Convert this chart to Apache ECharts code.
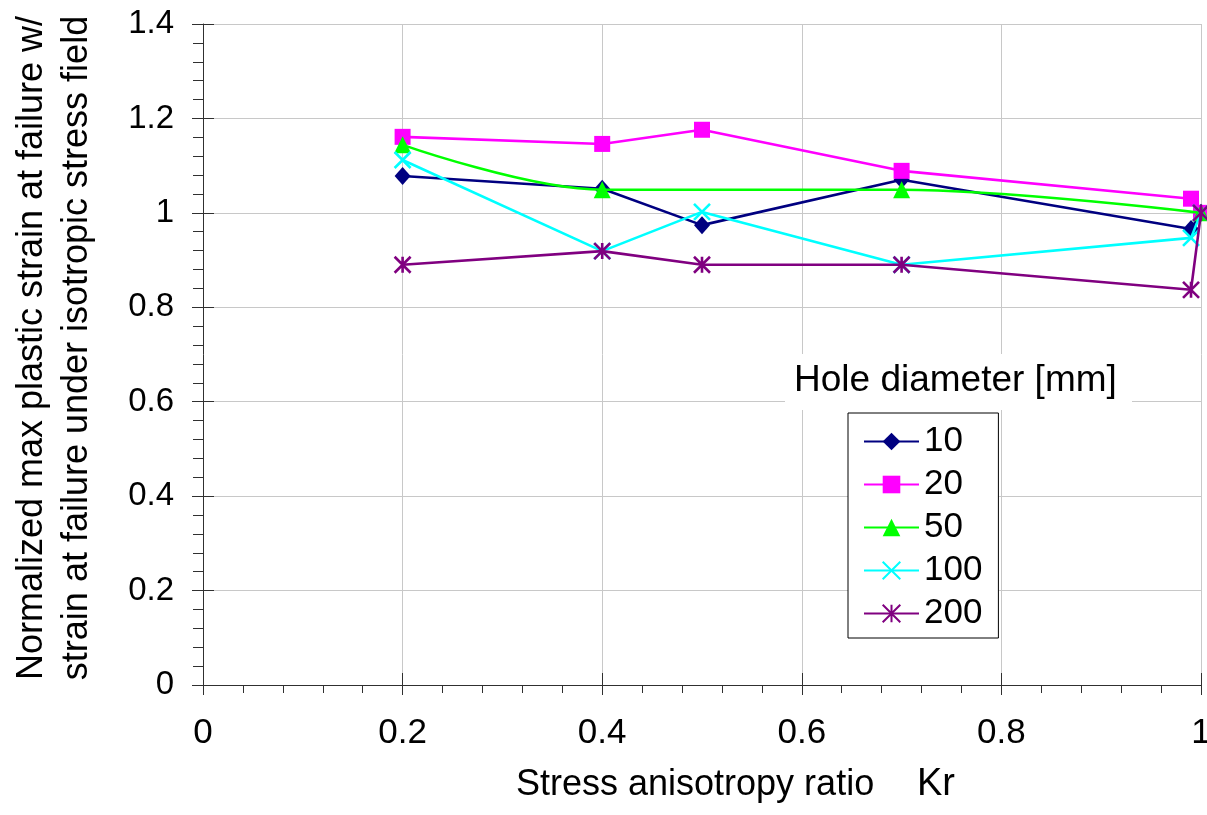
<!DOCTYPE html>
<html>
<head>
<meta charset="utf-8">
<script src="https://cdn.jsdelivr.net/npm/echarts@6/dist/echarts.min.js"></script>
<style>html,body{margin:0;padding:0;background:#fff;}#c{width:1207px;height:815px;}</style>
</head>
<body>
<div id="c"></div>
<script>
// ---- data ----
const seriesNames = ['10', '20', '50', '100', '200'];
const kr = [0.2, 0.4, 0.5, 0.7, 0.99, 1.0];
const kr50 = [0.2, 0.4, 0.7, 1.0];
const d10 = [1.078, 1.051, 0.974, 1.070, 0.966, 1.0];
const d20 = [1.161, 1.146, 1.176, 1.089, 1.030, 1.0];
const d50 = [1.144, 1.049, 1.049, 1.0];
const d100 = [1.112, 0.919, 1.002, 0.890, 0.947, 1.0];
const d200 = [0.890, 0.919, 0.890, 0.890, 0.837, 1.0];
const yTitle = 'Normalized max plastic strain at failure w/\nstrain at failure under isotropic stress field';
const xTitle = 'Stress anisotropy ratio';
const xTitleSym = 'Kr';
const legendTitle = 'Hole diameter [mm]';

const FONT = 'Liberation Sans, Arial, sans-serif';
function pts(xs, ys) { return xs.map((x, i) => [x, ys[i]]); }

const chart = echarts.init(document.getElementById('c'), null, {renderer: 'canvas'});

const colors = ['#000080', '#ff00ff', '#00ff00', '#00ffff', '#800080'];
const xs = [kr, kr, kr50, kr, kr];
const ys = [d10, d20, d50, d100, d200];
const symbols = ['diamond', 'rect', 'triangle',
  'path://M0,0L10,10M10,0L0,10',
  'path://M0,0L10,10M10,0L0,10M5,0L5,10'];
const sizes = [[16, 18], 16, 17, 16, 16];

const series = seriesNames.map((n, i) => ({
  name: n,
  type: 'line',
  xAxisIndex: 0, yAxisIndex: 0,
  data: pts(xs[i], ys[i]),
  smooth: i === 2 ? 0.35 : false,
  symbol: symbols[i],
  symbolSize: sizes[i],
  showAllSymbol: true,
  lineStyle: {color: colors[i], width: 2.6},
  itemStyle: i >= 3 ? {color: colors[i], borderColor: colors[i], borderWidth: 2.6, opacity: 1}
                    : {color: colors[i], borderWidth: 0},
  emphasis: {disabled: true},
  animation: false,
  z: 2 + i
}));

const axisLineStyle = {color: '#303030', width: 1};

const option = {
  animation: false,
  textStyle: {fontFamily: FONT},
  grid: {left: 203, right: 6, top: 24, bottom: 130, containLabel: false, outerBoundsMode: 'none'},
  xAxis: [{
    type: 'value', min: 0, max: 1, interval: 0.2,
    axisLine: {show: true, lineStyle: axisLineStyle},
    axisTick: {show: true, inside: false, length: 10, lineStyle: axisLineStyle},
    minorTick: {show: true, splitNumber: 5, length: 8, lineStyle: axisLineStyle},
    splitLine: {show: true, lineStyle: {color: '#c8c8c8', width: 1}},
    axisLabel: {fontSize: 35, color: '#000', margin: 31, fontFamily: FONT}
  }, {
    type: 'value', min: 0, max: 1, interval: 0.2, position: 'bottom',
    axisLine: {show: false},
    axisTick: {show: true, inside: true, length: 12, lineStyle: axisLineStyle},
    splitLine: {show: false}, axisLabel: {show: false}
  }],
  yAxis: [{
    type: 'value', min: 0, max: 1.4, interval: 0.2,
    axisLine: {show: true, lineStyle: axisLineStyle},
    axisTick: {show: true, inside: false, length: 11, lineStyle: axisLineStyle},
    minorTick: {show: true, splitNumber: 5, length: 10, lineStyle: axisLineStyle},
    splitLine: {show: true, lineStyle: {color: '#c8c8c8', width: 1}},
    axisLabel: {fontSize: 33, color: '#000', margin: 29, fontFamily: FONT}
  }, {
    type: 'value', min: 0, max: 1.4, interval: 0.2, position: 'left',
    axisLine: {show: false},
    axisTick: {show: true, inside: true, length: 11, lineStyle: axisLineStyle},
    splitLine: {show: false}, axisLabel: {show: false}
  }],
  legend: {
    data: seriesNames,
    orient: 'vertical',
    left: 848, top: 413,
    padding: [11, 16, 7, 15],
    itemWidth: 55, itemHeight: 22, itemGap: 8,
    backgroundColor: '#fff',
    borderColor: '#000', borderWidth: 1,
    textStyle: {fontSize: 35, color: '#000', lineHeight: 30, fontFamily: FONT},
    selectedMode: false,
    z: 50
  },
  graphic: [
    {type: 'rect', z: 100, shape: {x: 785, y: 354, width: 347, height: 56}, style: {fill: '#fff'}},
    {type: 'text', z: 101, x: 794, y: 381, style: {text: legendTitle, font: '37px ' + FONT, fill: '#000', textAlign: 'left', textVerticalAlign: 'middle'}},
    {type: 'text', z: 101, x: 516, y: 785, style: {text: xTitle, font: '36px ' + FONT, fill: '#000', textAlign: 'left', textVerticalAlign: 'middle'}},
    {type: 'text', z: 101, x: 917, y: 785, style: {text: xTitleSym, font: '38px ' + FONT, fill: '#000', textAlign: 'left', textVerticalAlign: 'middle'}},
    {type: 'text', z: 101, x: 55, y: 348, rotation: Math.PI / 2, style: {text: yTitle, font: '36px ' + FONT, lineHeight: 45, fill: '#000', textAlign: 'center', textVerticalAlign: 'middle'}}
  ],
  series: series
};
chart.setOption(option);
</script>
</body>
</html>
